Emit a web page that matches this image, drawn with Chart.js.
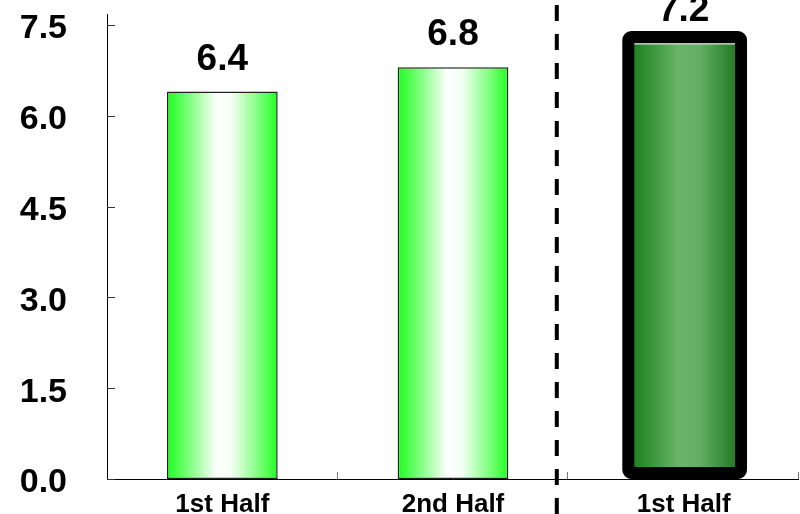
<!DOCTYPE html>
<html>
<head>
<meta charset="utf-8">
<script src="https://cdn.jsdelivr.net/npm/chart.js@4"></script>
<style>
  html, body { margin: 0; padding: 0; background: #fff; }
  #wrap { width: 800px; height: 514px; }
</style>
</head>
<body>
<div id="wrap"><canvas id="chart"></canvas></div>
<script>
// ===== Data =====
const categories = ["1st Half", "2nd Half", "1st Half"];
const values = [6.4, 6.8, 7.2];
const yTicks = [0, 1.5, 3.0, 4.5, 6.0, 7.5];
const highlightIndex = 2;

// ===== Bar fills =====
function barFill(ctx) {
  const chart = ctx.chart;
  const x = chart.scales.x;
  if (!chart.chartArea || !x) return "#3f3";
  const i = ctx.dataIndex;
  const w = x.getPixelForValue(1) - x.getPixelForValue(0);
  const cx = x.getPixelForValue(i);
  const half = w * 0.48 / 2;
  const g = chart.ctx.createLinearGradient(cx - half, 0, cx + half, 0);
  if (i === highlightIndex) {
    g.addColorStop(0, "#1c7a1c");
    g.addColorStop(0.12, "#2a8a2a");
    g.addColorStop(0.45, "#68b468");
    g.addColorStop(0.65, "#62ae62");
    g.addColorStop(0.9, "#2f852f");
    g.addColorStop(1, "#217821");
  } else {
    g.addColorStop(0, "#1cff1c");
    g.addColorStop(0.2, "#7dff7d");
    g.addColorStop(0.45, "#ffffff");
    g.addColorStop(0.58, "#f4fff4");
    g.addColorStop(0.8, "#8cff8c");
    g.addColorStop(1, "#22ff22");
  }
  return g;
}

// ===== Plugins =====
const axisTicks = {
  id: "axisTicks",
  afterDraw(chart) {
    const { ctx, chartArea: a, scales: { x, y } } = chart;
    ctx.save();
    ctx.strokeStyle = "#000";
    ctx.lineWidth = 1;
    // axis lines
    ctx.beginPath();
    ctx.moveTo(a.left + 0.5, a.top);
    ctx.lineTo(a.left + 0.5, a.bottom + 0.5);
    ctx.lineTo(a.right, a.bottom + 0.5);
    ctx.stroke();
    // y ticks pointing inward
    ctx.strokeStyle = "#333";
    yTicks.forEach(v => {
      const py = Math.round(y.getPixelForValue(v)) + 0.5;
      ctx.beginPath();
      ctx.moveTo(a.left, py);
      ctx.lineTo(a.left + 8, py);
      ctx.stroke();
    });
    // x ticks at category boundaries, pointing up
    ctx.strokeStyle = "#777";
    for (let i = 0; i < categories.length; i++) {
      const px = Math.round(x.getPixelForValue(i + 0.5)) - 0.5;
      ctx.beginPath();
      ctx.moveTo(px, a.bottom);
      ctx.lineTo(px, a.bottom - 7);
      ctx.stroke();
    }
    ctx.restore();
  }
};

const highlightBox = {
  id: "highlightBox",
  afterDatasetsDraw(chart) {
    const { ctx } = chart;
    const el = chart.getDatasetMeta(0).data[highlightIndex];
    if (!el) return;
    const l = el.x - el.width / 2;
    const t = el.y - 6;
    const w = el.width + 2;
    const h = el.base - 6 - t;
    ctx.save();
    ctx.strokeStyle = "#000";
    ctx.lineWidth = 12;
    ctx.lineJoin = "round";
    ctx.beginPath();
    ctx.roundRect(l, t, w, h, 3);
    ctx.stroke();
    ctx.restore();
  }
};

const divider = {
  id: "divider",
  afterDraw(chart) {
    const { ctx, scales: { x } } = chart;
    const px = x.getPixelForValue(1.45);
    ctx.save();
    ctx.strokeStyle = "#000";
    ctx.lineWidth = 4;
    ctx.setLineDash([16, 13]);
    ctx.beginPath();
    ctx.moveTo(px, 5);
    ctx.lineTo(px, chart.height);
    ctx.stroke();
    ctx.restore();
  }
};

const valueLabels = {
  id: "valueLabels",
  afterDraw(chart) {
    const { ctx } = chart;
    ctx.save();
    ctx.fillStyle = "#000";
    ctx.font = "bold 37px 'Liberation Sans', Arial, sans-serif";
    ctx.textAlign = "center";
    ctx.textBaseline = "alphabetic";
    chart.getDatasetMeta(0).data.forEach((el, i) => {
      ctx.fillText(values[i].toFixed(1), el.x, el.y - 22);
    });
    ctx.restore();
  }
};

// ===== Chart =====
new Chart(document.getElementById("chart"), {
  type: "bar",
  data: {
    labels: categories,
    datasets: [{
      data: values,
      backgroundColor: barFill,
      borderColor: ["#222", "#222", "#bbb"],
      borderWidth: 1.5,
      borderSkipped: false,
      categoryPercentage: 1,
      barPercentage: 0.48
    }]
  },
  options: {
    responsive: true,
    maintainAspectRatio: false,
    animation: false,
    layout: { padding: { top: 14, right: 1, left: 0, bottom: 0 } },
    plugins: { legend: { display: false }, tooltip: { enabled: false } },
    scales: {
      x: {
        grid: { display: false },
        border: { display: false },
        ticks: {
          color: "#000",
          padding: 2,
          font: { family: "'Liberation Sans', Arial, sans-serif", size: 26, weight: "bold" }
        },
        afterFit(scale) {
          scale.height = 35;
          scale.paddingLeft = 0;
          scale.paddingRight = 0;
        }
      },
      y: {
        min: 0,
        max: 7.68,
        grid: { display: false },
        border: { display: false },
        afterBuildTicks(scale) { scale.ticks = yTicks.map(v => ({ value: v })); },
        ticks: {
          color: "#000",
          padding: 32,
          labelOffset: 4,
          callback: v => Number(v).toFixed(1),
          font: { family: "'Liberation Sans', Arial, sans-serif", size: 34, weight: "bold" }
        },
        afterFit(scale) {
          scale.width = 107;
          scale.paddingTop = 0;
          scale.paddingBottom = 0;
        }
      }
    }
  },
  plugins: [highlightBox, axisTicks, divider, valueLabels]
});
</script>
</body>
</html>
